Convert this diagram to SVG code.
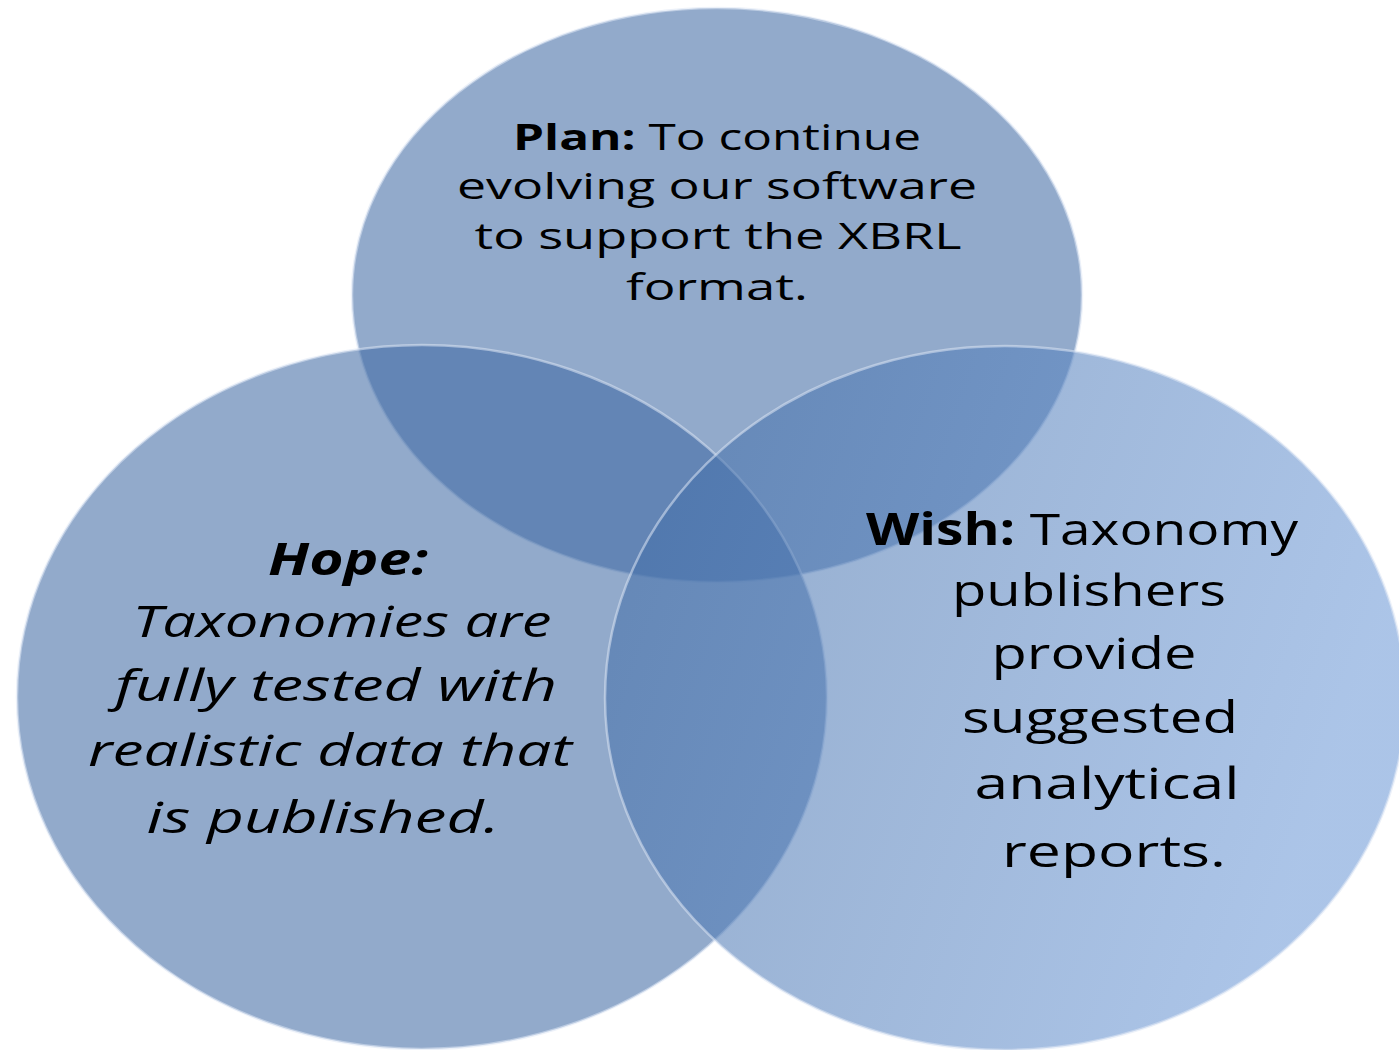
<svg xmlns="http://www.w3.org/2000/svg" width="1399" height="1050" viewBox="0 0 1399 1050">
<style>
.c{fill:#3f6aa3;fill-opacity:0.57;stroke:#dce6f4;stroke-opacity:0.55;stroke-width:2.5}
.t{font-family:"Open Sans","Noto Sans","DejaVu Sans",sans-serif;fill:#000;text-anchor:middle}
.p{font-size:36px}
.h{font-size:44px;font-style:italic}
.w{font-size:44px}
.b{font-weight:bold}
</style>
<defs>
<linearGradient id="gr" x1="0" y1="0" x2="1" y2="0.3">
<stop offset="0" stop-color="#3f6aa3"/>
<stop offset="1" stop-color="#6c98d6"/>
</linearGradient>
</defs>
<rect width="1399" height="1050" fill="#fff"/>
<g id="plan">
<ellipse class="c" cx="717" cy="295" rx="365" ry="287"/>
</g>
<g id="hope">
<ellipse class="c" cx="422" cy="697" rx="405" ry="352"/>
</g>
<g id="wish">
<ellipse class="c" cx="1005" cy="698" rx="400" ry="352" style="fill:url(#gr)"/>
</g>
<g id="connectors"></g>
<g id="labels">
<text class="t p" x="717" y="150" textLength="408" lengthAdjust="spacingAndGlyphs"><tspan class="b">Plan:</tspan> To continue</text>
<text class="t p" x="717" y="199" textLength="520" lengthAdjust="spacingAndGlyphs">evolving our software</text>
<text class="t p" x="718" y="249" textLength="487" lengthAdjust="spacingAndGlyphs">to support the XBRL</text>
<text class="t p" x="717" y="300" textLength="182" lengthAdjust="spacingAndGlyphs">format.</text>
<text class="t h b" x="348" y="575" textLength="160" lengthAdjust="spacingAndGlyphs">Hope:</text>
<text class="t h" x="342" y="637" textLength="419" lengthAdjust="spacingAndGlyphs">Taxonomies are</text>
<text class="t h" x="336" y="701" textLength="442" lengthAdjust="spacingAndGlyphs">fully tested with</text>
<text class="t h" x="330" y="766" textLength="484" lengthAdjust="spacingAndGlyphs">realistic data that</text>
<text class="t h" x="323" y="833" textLength="353" lengthAdjust="spacingAndGlyphs">is published.</text>
<text class="t w" x="1082" y="545" textLength="432" lengthAdjust="spacingAndGlyphs"><tspan class="b">Wish:</tspan> Taxonomy</text>
<text class="t w" x="1089" y="606" textLength="274" lengthAdjust="spacingAndGlyphs">publishers</text>
<text class="t w" x="1094" y="669" textLength="205" lengthAdjust="spacingAndGlyphs">provide</text>
<text class="t w" x="1100" y="733" textLength="276" lengthAdjust="spacingAndGlyphs">suggested</text>
<text class="t w" x="1107" y="799" textLength="265" lengthAdjust="spacingAndGlyphs">analytical</text>
<text class="t w" x="1114" y="867" textLength="224" lengthAdjust="spacingAndGlyphs">reports.</text>
</g>
</svg>
